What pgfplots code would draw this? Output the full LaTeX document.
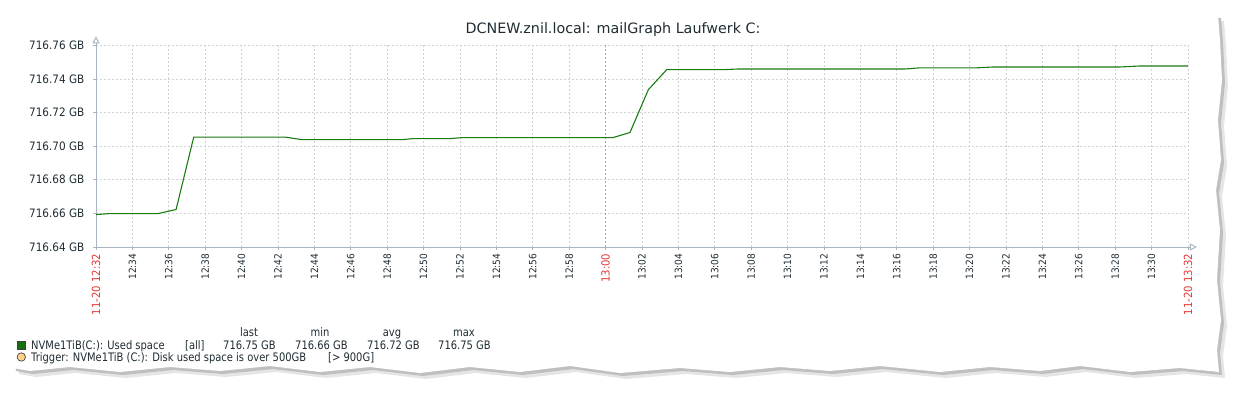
\documentclass[border=0pt]{standalone}
\usepackage{pgfplots}
\pgfplotsset{compat=1.18}
\usepackage{pgfplotstable}
\usepackage{fontspec}
\setmainfont{DejaVu Sans}
\newfontfamily\cond{DejaVu Sans}[FakeStretch=0.9]
\newfontfamily\condb{DejaVu Sans}[FakeStretch=0.85]
\usetikzlibrary{arrows.meta}
\definecolor{zgreen}{HTML}{1A7C11}
\definecolor{gridc}{HTML}{CDD3D8}
\definecolor{axisc}{HTML}{AAB4BE}
\definecolor{gridd}{HTML}{9AA6B0}
\definecolor{tickred}{HTML}{E53935}
\definecolor{txt}{HTML}{1F2C33}
\definecolor{trig}{HTML}{FFD08A}

% minutes after 11-20 12:32, used space in GB
\pgfplotstableread{
min gb
0     716.6593
0.77  716.6599
3.42  716.6599
4.40  716.6623
5.37  716.7054
10.38 716.7054
11.30 716.7039
16.87 716.7039
17.42 716.7045
19.45 716.7045
20.16 716.7051
28.41 716.7051
29.34 716.7081
30.35 716.7336
31.36 716.7455
34.45 716.7455
35.27 716.7459
44.45 716.7459
45.27 716.7466
48.41 716.7466
49.29 716.7471
56.26 716.7471
57.36 716.7477
60    716.7477
}\disk

\newcommand{\rl}[1]{{\fontsize{11.2}{12}\selectfont\color{tickred}#1}}

\begin{document}
\begin{tikzpicture}[x=1pt,y=1pt]
\path[use as bounding box] (0,0) rectangle (1235,392);
\def\paper{(14,376) -- (40,379) -- (80,375) -- (120,378) -- (160,374) -- (200,379) -- (240,376) -- (280,380) -- (330,375) -- (380,378) -- (430,374) -- (470,380) -- (520,376) -- (560,379) -- (600,375) -- (650,378) -- (700,376) -- (740,379) -- (780,375) -- (830,378) -- (880,376) -- (920,380) -- (960,376) -- (1000,379) -- (1040,375) -- (1080,379) -- (1130,376) -- (1170,379) -- (1218,377)
 -- (1220,352) -- (1222,312) -- (1218,272) -- (1221,232) -- (1216,202) -- (1220,162) -- (1217,112) -- (1221,72) -- (1217,42) -- (1219,20)
 -- (1180,24) -- (1130,20) -- (1080,26) -- (1040,21) -- (990,25) -- (940,20) -- (880,26) -- (830,21) -- (780,25) -- (730,20) -- (680,24) -- (620,19) -- (570,26) -- (520,20) -- (470,25) -- (420,19) -- (370,25) -- (320,20) -- (270,26) -- (220,21) -- (170,25) -- (120,20) -- (70,25) -- (30,21) -- (13,24)
 -- (10,62) -- (15,102) -- (9,142) -- (14,182) -- (8,222) -- (14,262) -- (9,302) -- (15,342) -- cycle}
\fill[black!10, xshift=6pt, yshift=-6pt] \paper;
\fill[black!25, xshift=3pt, yshift=-3pt] \paper;
\fill[white] \paper;

\node[font=\fontsize{14.3}{16}\selectfont, text=txt, anchor=base] at (613,359) {DCNEW.znil.local: mailGraph Laufwerk C:};

\begin{axis}[
  at={(96pt,145pt)}, anchor=south west,
  scale only axis, width=1092pt, height=201.7pt,
  xmin=0, xmax=60, ymin=716.64, ymax=716.76,
  xtick={0,2,4,6,8,10,12,14,16,18,20,22,24,26,28,30,32,34,36,38,40,42,44,46,48,50,52,54,56,58,60},
  xticklabels={\rl{11-20 12:32},12:34,12:36,12:38,12:40,12:42,12:44,12:46,12:48,12:50,12:52,12:54,12:56,12:58,\rl{13:00},13:02,13:04,13:06,13:08,13:10,13:12,13:14,13:16,13:18,13:20,13:22,13:24,13:26,13:28,13:30,\rl{11-20 13:32}},
  ytick={716.64,716.66,716.68,716.70,716.72,716.74,716.76},
  yticklabels={716.64 GB,716.66 GB,716.68 GB,716.70 GB,716.72 GB,716.74 GB,716.76 GB},
  extra x ticks={28}, extra x tick labels={},
  extra x tick style={grid style={gridd, dash pattern=on 2pt off 2pt, line width=0.8pt}, major tick length=0pt},
  grid=major,
  grid style={gridc, dash pattern=on 2pt off 2pt, line width=0.8pt},
  axis lines=left,
  axis line style={axisc, line width=1pt, -{Triangle[open,length=7pt,width=7pt]}, shorten >=-9pt},
  tick style={axisc, line width=0.8pt}, tick align=outside, major tick length=3pt,
  xticklabel style={rotate=90, anchor=east, inner xsep=3.5pt, inner ysep=0pt, text=txt, font=\cond\fontsize{10}{11}\selectfont},
  yticklabel style={anchor=east, inner sep=0pt, xshift=-8.5pt, text=txt, font=\cond\fontsize{11.6}{12}\selectfont},
]
\addplot[zgreen, line width=1.1pt, line join=round] table[x=min, y=gb] {\disk};
\end{axis}

% legend
\begin{scope}[font=\condb\fontsize{11.7}{13}\selectfont, text=txt]
\filldraw[fill=zgreen!90!black, draw=black!75, line width=0.6pt] (17.5,43) rectangle (25.5,51);
\node[anchor=base west, inner sep=0pt] at (31,43) {NVMe1TiB(C:): Used space};
\node[anchor=base west, inner sep=0pt] at (185,43) {[all]};
\node[anchor=base, inner sep=0pt] at (249,56) {last};
\node[anchor=base, inner sep=0pt] at (320,56) {min};
\node[anchor=base, inner sep=0pt] at (392,56) {avg};
\node[anchor=base, inner sep=0pt] at (464,56) {max};
\node[anchor=base west, inner sep=0pt] at (223,43) {716.75 GB};
\node[anchor=base west, inner sep=0pt] at (295,43) {716.66 GB};
\node[anchor=base west, inner sep=0pt] at (367,43) {716.72 GB};
\node[anchor=base west, inner sep=0pt] at (438,43) {716.75 GB};
\filldraw[fill=trig, draw=black!80, line width=0.6pt] (21.3,35) circle (4.2);
\node[anchor=base west, inner sep=0pt] at (31,31) {Trigger: NVMe1TiB (C:): Disk used space is over 500GB};
\node[anchor=base west, inner sep=0pt] at (328,31) {[> 900G]};
\end{scope}
\end{tikzpicture}
\end{document}
